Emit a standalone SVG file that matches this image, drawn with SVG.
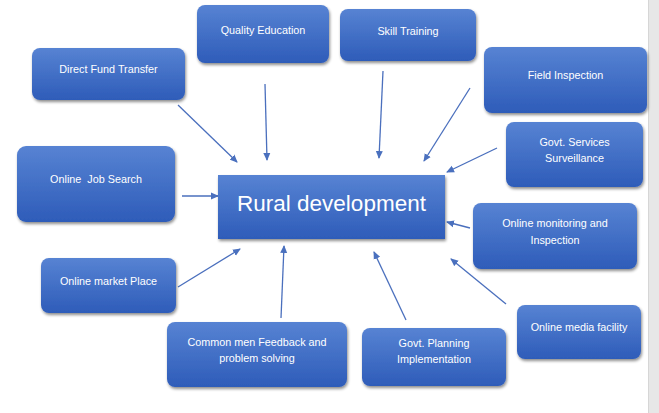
<svg xmlns="http://www.w3.org/2000/svg" width="659" height="413" viewBox="0 0 659 413">
<defs>
<linearGradient id="g" x1="0" y1="0" x2="0" y2="1">
<stop offset="0" stop-color="#5783d3"/>
<stop offset="1" stop-color="#2e5cb9"/>
</linearGradient>
<filter id="sh" x="-10%" y="-10%" width="125%" height="130%">
<feGaussianBlur in="SourceAlpha" stdDeviation="1.6"/>
<feOffset dx="1" dy="2" result="b"/>
<feComponentTransfer><feFuncA type="linear" slope="0.45"/></feComponentTransfer>
<feMerge><feMergeNode/><feMergeNode in="SourceGraphic"/></feMerge>
</filter>
<marker id="ah" markerWidth="8" markerHeight="8" refX="7" refY="4" orient="auto" markerUnits="userSpaceOnUse">
<path d="M0,0.5 L8,4 L0,7.5 Z" fill="#4a70be"/>
</marker>
</defs>
<style>
.box{fill:url(#g);filter:url(#sh)}
.t{font-family:"Liberation Sans",Arial,sans-serif;font-size:10.8px;fill:#ffffff;text-anchor:middle}
.big{font-family:"Liberation Sans",Arial,sans-serif;font-size:22.5px;fill:#ffffff;text-anchor:middle}
.c{stroke:#4a6fbd;stroke-width:1.3;fill:none;marker-end:url(#ah)}
</style>
<rect x="0" y="0" width="659" height="413" fill="#ffffff"/>
<rect x="648" y="0" width="11" height="413" fill="#e7e7e7"/>
<line x1="648.5" y1="0" x2="648.5" y2="413" stroke="#d6d6d6"/>

<g id="connectors">
<line class="c" x1="178" y1="105" x2="237" y2="162"/>
<line class="c" x1="265" y1="84" x2="267" y2="160"/>
<line class="c" x1="383" y1="71" x2="379" y2="158"/>
<line class="c" x1="470" y1="88" x2="424" y2="161"/>
<line class="c" x1="497" y1="148" x2="447" y2="172"/>
<line class="c" x1="470" y1="228" x2="447" y2="222"/>
<line class="c" x1="506" y1="304" x2="451" y2="259"/>
<line class="c" x1="406" y1="320" x2="374" y2="252"/>
<line class="c" x1="281" y1="318" x2="284" y2="246"/>
<line class="c" x1="178" y1="287" x2="240" y2="249"/>
<line class="c" x1="182" y1="196" x2="218" y2="196"/>
</g>

<g id="rural-development">
<rect class="box" x="218" y="175" width="227" height="64"/>
<text class="big" x="331.5" y="210.5">Rural development</text>
</g>
<g id="quality-education">
<rect class="box" x="197" y="5" width="132" height="58" rx="8"/>
<text class="t" x="263" y="34">Quality Education</text>
</g>
<g id="direct-fund-transfer">
<rect class="box" x="32" y="48" width="153" height="52" rx="8"/>
<text class="t" x="108.5" y="73">Direct Fund Transfer</text>
</g>
<g id="skill-training">
<rect class="box" x="340" y="9" width="136" height="52" rx="8"/>
<text class="t" x="408" y="35">Skill Training</text>
</g>
<g id="field-inspection">
<rect class="box" x="484" y="47" width="163" height="66" rx="8"/>
<text class="t" x="565.5" y="79">Field Inspection</text>
</g>
<g id="govt-services-surveillance">
<rect class="box" x="506" y="122" width="137" height="65" rx="8"/>
<text class="t" x="574.5" y="146">Govt. Services</text>
<text class="t" x="574.5" y="162">Surveillance</text>
</g>
<g id="online-monitoring">
<rect class="box" x="473" y="203" width="164" height="66" rx="8"/>
<text class="t" x="555" y="227">Online monitoring and</text>
<text class="t" x="555" y="244">Inspection</text>
</g>
<g id="online-job-search">
<rect class="box" x="17" y="146" width="158" height="76" rx="9"/>
<text class="t" x="96" y="183">Online&#160; Job Search</text>
</g>
<g id="online-market-place">
<rect class="box" x="41" y="258" width="135" height="55" rx="8"/>
<text class="t" x="108.5" y="285">Online market Place</text>
</g>
<g id="common-men-feedback">
<rect class="box" x="167" y="322" width="180" height="65" rx="8"/>
<text class="t" x="257" y="346">Common men Feedback and</text>
<text class="t" x="257" y="362">problem solving</text>
</g>
<g id="govt-planning-implementation">
<rect class="box" x="362" y="328" width="144" height="58" rx="8"/>
<text class="t" x="434" y="347">Govt. Planning</text>
<text class="t" x="434" y="363">Implementation</text>
</g>
<g id="online-media-facility">
<rect class="box" x="517" y="305" width="124" height="54" rx="8"/>
<text class="t" x="579" y="331">Online media facility</text>
</g>
</svg>
